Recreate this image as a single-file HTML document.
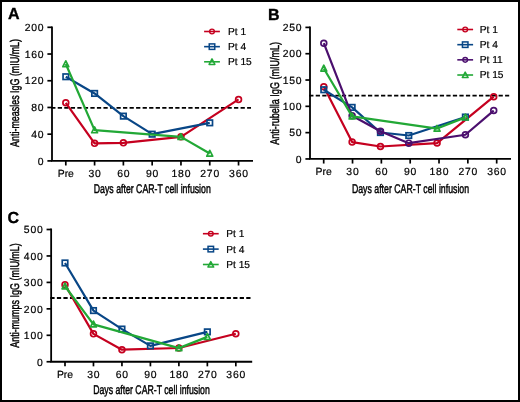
<!DOCTYPE html>
<html><head><meta charset="utf-8"><style>
html,body{margin:0;padding:0;background:#fff;}
svg{display:block;font-family:"Liberation Sans", sans-serif;will-change:transform;}
text{stroke:#000;stroke-width:0.2px;text-rendering:geometricPrecision;}
</style></head><body>
<svg width="520" height="402" viewBox="0 0 520 402" font-family='"Liberation Sans", sans-serif' fill="#000">
<rect x="0" y="0" width="520" height="402" fill="#fff"/>
<text x="7.9" y="19.2" font-size="16" font-weight="bold" fill="#000" style="stroke-width:0.35px">A</text>
<line x1="51.2" y1="107.85" x2="251" y2="107.85" stroke="#000" stroke-width="1.8" stroke-dasharray="4.25 2.28"/>
<path d="M52,26.4 V160.9 H253" fill="none" stroke="#000" stroke-width="1.8" stroke-linejoin="miter"/>
<line x1="47.4" y1="160.9" x2="52" y2="160.9" stroke="#000" stroke-width="1.7"/>
<text x="44.4" y="164.65" font-size="10.4" text-anchor="end" letter-spacing="0.8">0</text>
<line x1="47.4" y1="134.18" x2="52" y2="134.18" stroke="#000" stroke-width="1.7"/>
<text x="44.4" y="137.93" font-size="10.4" text-anchor="end" letter-spacing="0.8">40</text>
<line x1="47.4" y1="107.46" x2="52" y2="107.46" stroke="#000" stroke-width="1.7"/>
<text x="44.4" y="111.21" font-size="10.4" text-anchor="end" letter-spacing="0.8">80</text>
<line x1="47.4" y1="80.74" x2="52" y2="80.74" stroke="#000" stroke-width="1.7"/>
<text x="44.4" y="84.49" font-size="10.4" text-anchor="end" letter-spacing="0.8">120</text>
<line x1="47.4" y1="54.02" x2="52" y2="54.02" stroke="#000" stroke-width="1.7"/>
<text x="44.4" y="57.77" font-size="10.4" text-anchor="end" letter-spacing="0.8">160</text>
<line x1="47.4" y1="27.3" x2="52" y2="27.3" stroke="#000" stroke-width="1.7"/>
<text x="44.4" y="31.05" font-size="10.4" text-anchor="end" letter-spacing="0.8">200</text>
<line x1="65.8" y1="160.9" x2="65.8" y2="165.5" stroke="#000" stroke-width="1.7"/>
<text x="65.8" y="176.9" font-size="10.4" text-anchor="middle">Pre</text>
<line x1="94.59" y1="160.9" x2="94.59" y2="165.5" stroke="#000" stroke-width="1.7"/>
<text x="94.99" y="176.9" font-size="10.4" text-anchor="middle" letter-spacing="0.8">30</text>
<line x1="123.38" y1="160.9" x2="123.38" y2="165.5" stroke="#000" stroke-width="1.7"/>
<text x="123.78" y="176.9" font-size="10.4" text-anchor="middle" letter-spacing="0.8">60</text>
<line x1="152.17" y1="160.9" x2="152.17" y2="165.5" stroke="#000" stroke-width="1.7"/>
<text x="152.57" y="176.9" font-size="10.4" text-anchor="middle" letter-spacing="0.8">90</text>
<line x1="180.96" y1="160.9" x2="180.96" y2="165.5" stroke="#000" stroke-width="1.7"/>
<text x="181.36" y="176.9" font-size="10.4" text-anchor="middle" letter-spacing="0.8">180</text>
<line x1="209.75" y1="160.9" x2="209.75" y2="165.5" stroke="#000" stroke-width="1.7"/>
<text x="210.15" y="176.9" font-size="10.4" text-anchor="middle" letter-spacing="0.8">270</text>
<line x1="238.54" y1="160.9" x2="238.54" y2="165.5" stroke="#000" stroke-width="1.7"/>
<text x="238.94" y="176.9" font-size="10.4" text-anchor="middle" letter-spacing="0.8">360</text>
<text x="93.8" y="192.9" font-size="12.6" textLength="117" lengthAdjust="spacingAndGlyphs" style="stroke-width:0.45px">Days after CAR-T cell infusion</text>
<text transform="translate(19.2,146.9) rotate(-90)" x="0" y="0" font-size="12.6" textLength="107.9" lengthAdjust="spacingAndGlyphs" style="stroke-width:0.45px">Anti-measles IgG (mIU/mL)</text>
<path d="M65.8,102.78 L94.59,143.33 L123.38,142.86 L180.96,136.85 L238.54,99.44" fill="none" stroke="#C5001F" stroke-width="2.2" stroke-linejoin="round"/>
<circle cx="65.8" cy="102.78" r="2.9" fill="none" stroke="#C5001F" stroke-width="1.7"/>
<circle cx="94.59" cy="143.33" r="2.9" fill="none" stroke="#C5001F" stroke-width="1.7"/>
<circle cx="123.38" cy="142.86" r="2.9" fill="none" stroke="#C5001F" stroke-width="1.7"/>
<circle cx="180.96" cy="136.85" r="2.9" fill="none" stroke="#C5001F" stroke-width="1.7"/>
<circle cx="238.54" cy="99.44" r="2.9" fill="none" stroke="#C5001F" stroke-width="1.7"/>
<path d="M65.8,76.73 L94.59,93.43 L123.38,116.14 L152.17,134.18 L209.75,122.82" fill="none" stroke="#084686" stroke-width="2.2" stroke-linejoin="round"/>
<rect x="63.05" y="73.98" width="5.5" height="5.5" fill="none" stroke="#084686" stroke-width="1.7"/>
<rect x="91.84" y="90.68" width="5.5" height="5.5" fill="none" stroke="#084686" stroke-width="1.7"/>
<rect x="120.63" y="113.39" width="5.5" height="5.5" fill="none" stroke="#084686" stroke-width="1.7"/>
<rect x="149.42" y="131.43" width="5.5" height="5.5" fill="none" stroke="#084686" stroke-width="1.7"/>
<rect x="207" y="120.07" width="5.5" height="5.5" fill="none" stroke="#084686" stroke-width="1.7"/>
<path d="M65.8,64.04 L94.59,130.17 L180.96,136.85 L209.75,153.55" fill="none" stroke="#22A836" stroke-width="2.2" stroke-linejoin="round"/>
<polygon points="65.8,60.84 68.75,66.64 62.85,66.64" fill="none" stroke="#22A836" stroke-width="1.7" stroke-linejoin="round"/>
<polygon points="94.59,126.97 97.54,132.77 91.64,132.77" fill="none" stroke="#22A836" stroke-width="1.7" stroke-linejoin="round"/>
<polygon points="180.96,133.65 183.91,139.45 178.01,139.45" fill="none" stroke="#22A836" stroke-width="1.7" stroke-linejoin="round"/>
<polygon points="209.75,150.35 212.7,156.15 206.8,156.15" fill="none" stroke="#22A836" stroke-width="1.7" stroke-linejoin="round"/>
<line x1="204.1" y1="31.5" x2="219.9" y2="31.5" stroke="#C5001F" stroke-width="1.6"/>
<circle cx="212" cy="31.5" r="2.35" fill="none" stroke="#C5001F" stroke-width="1.4"/>
<text x="228" y="34.9" font-size="10.2">Pt 1</text>
<line x1="204.1" y1="46.65" x2="219.9" y2="46.65" stroke="#084686" stroke-width="1.6"/>
<rect x="209.25" y="43.9" width="5.5" height="5.5" fill="none" stroke="#084686" stroke-width="1.5"/>
<text x="228" y="50.05" font-size="10.2">Pt 4</text>
<line x1="204.1" y1="61.8" x2="219.9" y2="61.8" stroke="#22A836" stroke-width="1.6"/>
<polygon points="212,58.9 214.9,64.4 209.1,64.4" fill="none" stroke="#22A836" stroke-width="1.5" stroke-linejoin="round"/>
<text x="228" y="65.2" font-size="10.2">Pt 15</text>
<text x="268.1" y="19.5" font-size="16" font-weight="bold" fill="#000" style="stroke-width:0.35px">B</text>
<line x1="309.2" y1="95.6" x2="509.2" y2="95.6" stroke="#000" stroke-width="1.8" stroke-dasharray="4.25 2.28"/>
<path d="M310,26.5 V158.95 H511" fill="none" stroke="#000" stroke-width="1.8" stroke-linejoin="miter"/>
<line x1="305.4" y1="158.95" x2="310" y2="158.95" stroke="#000" stroke-width="1.7"/>
<text x="302.4" y="162.7" font-size="10.4" text-anchor="end" letter-spacing="0.8">0</text>
<line x1="305.4" y1="132.64" x2="310" y2="132.64" stroke="#000" stroke-width="1.7"/>
<text x="302.4" y="136.39" font-size="10.4" text-anchor="end" letter-spacing="0.8">50</text>
<line x1="305.4" y1="106.33" x2="310" y2="106.33" stroke="#000" stroke-width="1.7"/>
<text x="302.4" y="110.08" font-size="10.4" text-anchor="end" letter-spacing="0.8">100</text>
<line x1="305.4" y1="80.02" x2="310" y2="80.02" stroke="#000" stroke-width="1.7"/>
<text x="302.4" y="83.77" font-size="10.4" text-anchor="end" letter-spacing="0.8">150</text>
<line x1="305.4" y1="53.71" x2="310" y2="53.71" stroke="#000" stroke-width="1.7"/>
<text x="302.4" y="57.46" font-size="10.4" text-anchor="end" letter-spacing="0.8">200</text>
<line x1="305.4" y1="27.4" x2="310" y2="27.4" stroke="#000" stroke-width="1.7"/>
<text x="302.4" y="31.15" font-size="10.4" text-anchor="end" letter-spacing="0.8">250</text>
<line x1="323.7" y1="158.95" x2="323.7" y2="163.55" stroke="#000" stroke-width="1.7"/>
<text x="323.7" y="174.95" font-size="10.4" text-anchor="middle">Pre</text>
<line x1="352.53" y1="158.95" x2="352.53" y2="163.55" stroke="#000" stroke-width="1.7"/>
<text x="352.93" y="174.95" font-size="10.4" text-anchor="middle" letter-spacing="0.8">30</text>
<line x1="381.36" y1="158.95" x2="381.36" y2="163.55" stroke="#000" stroke-width="1.7"/>
<text x="381.76" y="174.95" font-size="10.4" text-anchor="middle" letter-spacing="0.8">60</text>
<line x1="410.19" y1="158.95" x2="410.19" y2="163.55" stroke="#000" stroke-width="1.7"/>
<text x="410.59" y="174.95" font-size="10.4" text-anchor="middle" letter-spacing="0.8">90</text>
<line x1="439.02" y1="158.95" x2="439.02" y2="163.55" stroke="#000" stroke-width="1.7"/>
<text x="439.42" y="174.95" font-size="10.4" text-anchor="middle" letter-spacing="0.8">180</text>
<line x1="467.85" y1="158.95" x2="467.85" y2="163.55" stroke="#000" stroke-width="1.7"/>
<text x="468.25" y="174.95" font-size="10.4" text-anchor="middle" letter-spacing="0.8">270</text>
<line x1="496.68" y1="158.95" x2="496.68" y2="163.55" stroke="#000" stroke-width="1.7"/>
<text x="497.08" y="174.95" font-size="10.4" text-anchor="middle" letter-spacing="0.8">360</text>
<text x="351.9" y="192.5" font-size="12.6" textLength="117.2" lengthAdjust="spacingAndGlyphs" style="stroke-width:0.45px">Days after CAR-T cell infusion</text>
<text transform="translate(279.3,144.8) rotate(-90)" x="0" y="0" font-size="12.6" textLength="102.8" lengthAdjust="spacingAndGlyphs" style="stroke-width:0.45px">Anti-rubella IgG (mIU/mL)</text>
<path d="M323.8,86.86 L352.12,142.11 L380.44,146.48 L437.08,143.06 L493.72,96.7" fill="none" stroke="#C5001F" stroke-width="2.2" stroke-linejoin="round"/>
<circle cx="323.8" cy="86.86" r="2.9" fill="none" stroke="#C5001F" stroke-width="1.7"/>
<circle cx="352.12" cy="142.11" r="2.9" fill="none" stroke="#C5001F" stroke-width="1.7"/>
<circle cx="380.44" cy="146.48" r="2.9" fill="none" stroke="#C5001F" stroke-width="1.7"/>
<circle cx="437.08" cy="143.06" r="2.9" fill="none" stroke="#C5001F" stroke-width="1.7"/>
<circle cx="493.72" cy="96.7" r="2.9" fill="none" stroke="#C5001F" stroke-width="1.7"/>
<path d="M323.8,89.75 L352.12,107.38 L380.44,132.53 L408.76,135.53 L465.4,117.06" fill="none" stroke="#084686" stroke-width="2.2" stroke-linejoin="round"/>
<rect x="321.05" y="87" width="5.5" height="5.5" fill="none" stroke="#084686" stroke-width="1.7"/>
<rect x="349.37" y="104.63" width="5.5" height="5.5" fill="none" stroke="#084686" stroke-width="1.7"/>
<rect x="377.69" y="129.78" width="5.5" height="5.5" fill="none" stroke="#084686" stroke-width="1.7"/>
<rect x="406.01" y="132.78" width="5.5" height="5.5" fill="none" stroke="#084686" stroke-width="1.7"/>
<rect x="462.65" y="114.31" width="5.5" height="5.5" fill="none" stroke="#084686" stroke-width="1.7"/>
<path d="M323.8,43.19 L352.12,115.8 L380.44,131.32 L408.76,143.16 L465.4,134.74 L493.72,110.54" fill="none" stroke="#4B0F6E" stroke-width="2.2" stroke-linejoin="round"/>
<circle cx="323.8" cy="43.19" r="2.9" fill="none" stroke="#4B0F6E" stroke-width="1.7"/>
<circle cx="352.12" cy="115.8" r="2.9" fill="none" stroke="#4B0F6E" stroke-width="1.7"/>
<circle cx="380.44" cy="131.32" r="2.9" fill="none" stroke="#4B0F6E" stroke-width="1.7"/>
<circle cx="408.76" cy="143.16" r="2.9" fill="none" stroke="#4B0F6E" stroke-width="1.7"/>
<circle cx="465.4" cy="134.74" r="2.9" fill="none" stroke="#4B0F6E" stroke-width="1.7"/>
<circle cx="493.72" cy="110.54" r="2.9" fill="none" stroke="#4B0F6E" stroke-width="1.7"/>
<path d="M323.8,68.44 L352.12,116.33 L437.08,128.59 L465.4,117.38" fill="none" stroke="#22A836" stroke-width="2.2" stroke-linejoin="round"/>
<polygon points="323.8,65.24 326.75,71.04 320.85,71.04" fill="none" stroke="#22A836" stroke-width="1.7" stroke-linejoin="round"/>
<polygon points="352.12,113.13 355.07,118.93 349.17,118.93" fill="none" stroke="#22A836" stroke-width="1.7" stroke-linejoin="round"/>
<polygon points="437.08,125.39 440.03,131.19 434.13,131.19" fill="none" stroke="#22A836" stroke-width="1.7" stroke-linejoin="round"/>
<polygon points="465.4,114.18 468.35,119.98 462.45,119.98" fill="none" stroke="#22A836" stroke-width="1.7" stroke-linejoin="round"/>
<line x1="457.3" y1="29.5" x2="473.1" y2="29.5" stroke="#C5001F" stroke-width="1.6"/>
<circle cx="465.2" cy="29.5" r="2.35" fill="none" stroke="#C5001F" stroke-width="1.4"/>
<text x="479.7" y="32.9" font-size="10.2">Pt 1</text>
<line x1="457.3" y1="44.67" x2="473.1" y2="44.67" stroke="#084686" stroke-width="1.6"/>
<rect x="462.45" y="41.92" width="5.5" height="5.5" fill="none" stroke="#084686" stroke-width="1.5"/>
<text x="479.7" y="48.07" font-size="10.2">Pt 4</text>
<line x1="457.3" y1="59.84" x2="473.1" y2="59.84" stroke="#4B0F6E" stroke-width="1.6"/>
<circle cx="465.2" cy="59.84" r="2.35" fill="none" stroke="#4B0F6E" stroke-width="1.4"/>
<text x="479.7" y="63.24" font-size="10.2">Pt 11</text>
<line x1="457.3" y1="75.01" x2="473.1" y2="75.01" stroke="#22A836" stroke-width="1.6"/>
<polygon points="465.2,72.11 468.1,77.61 462.3,77.61" fill="none" stroke="#22A836" stroke-width="1.5" stroke-linejoin="round"/>
<text x="479.7" y="78.41" font-size="10.2">Pt 15</text>
<text x="7.6" y="222.5" font-size="16" font-weight="bold" fill="#000" style="stroke-width:0.35px">C</text>
<line x1="50.35" y1="298" x2="251.3" y2="298" stroke="#000" stroke-width="1.8" stroke-dasharray="4.25 2.28"/>
<path d="M51.15,228.6 V361.75 H252.2" fill="none" stroke="#000" stroke-width="1.8" stroke-linejoin="miter"/>
<line x1="46.55" y1="361.75" x2="51.15" y2="361.75" stroke="#000" stroke-width="1.7"/>
<text x="43.6" y="365.5" font-size="10.4" text-anchor="end" letter-spacing="0.8">0</text>
<line x1="46.55" y1="335.3" x2="51.15" y2="335.3" stroke="#000" stroke-width="1.7"/>
<text x="43.6" y="339.05" font-size="10.4" text-anchor="end" letter-spacing="0.8">100</text>
<line x1="46.55" y1="308.85" x2="51.15" y2="308.85" stroke="#000" stroke-width="1.7"/>
<text x="43.6" y="312.6" font-size="10.4" text-anchor="end" letter-spacing="0.8">200</text>
<line x1="46.55" y1="282.4" x2="51.15" y2="282.4" stroke="#000" stroke-width="1.7"/>
<text x="43.6" y="286.15" font-size="10.4" text-anchor="end" letter-spacing="0.8">300</text>
<line x1="46.55" y1="255.95" x2="51.15" y2="255.95" stroke="#000" stroke-width="1.7"/>
<text x="43.6" y="259.7" font-size="10.4" text-anchor="end" letter-spacing="0.8">400</text>
<line x1="46.55" y1="229.5" x2="51.15" y2="229.5" stroke="#000" stroke-width="1.7"/>
<text x="43.6" y="233.25" font-size="10.4" text-anchor="end" letter-spacing="0.8">500</text>
<line x1="65" y1="361.75" x2="65" y2="366.35" stroke="#000" stroke-width="1.7"/>
<text x="65" y="377.75" font-size="10.4" text-anchor="middle">Pre</text>
<line x1="93.47" y1="361.75" x2="93.47" y2="366.35" stroke="#000" stroke-width="1.7"/>
<text x="93.87" y="377.75" font-size="10.4" text-anchor="middle" letter-spacing="0.8">30</text>
<line x1="121.94" y1="361.75" x2="121.94" y2="366.35" stroke="#000" stroke-width="1.7"/>
<text x="122.34" y="377.75" font-size="10.4" text-anchor="middle" letter-spacing="0.8">60</text>
<line x1="150.41" y1="361.75" x2="150.41" y2="366.35" stroke="#000" stroke-width="1.7"/>
<text x="150.81" y="377.75" font-size="10.4" text-anchor="middle" letter-spacing="0.8">90</text>
<line x1="178.88" y1="361.75" x2="178.88" y2="366.35" stroke="#000" stroke-width="1.7"/>
<text x="179.28" y="377.75" font-size="10.4" text-anchor="middle" letter-spacing="0.8">180</text>
<line x1="207.35" y1="361.75" x2="207.35" y2="366.35" stroke="#000" stroke-width="1.7"/>
<text x="207.75" y="377.75" font-size="10.4" text-anchor="middle" letter-spacing="0.8">270</text>
<line x1="235.82" y1="361.75" x2="235.82" y2="366.35" stroke="#000" stroke-width="1.7"/>
<text x="236.22" y="377.75" font-size="10.4" text-anchor="middle" letter-spacing="0.8">360</text>
<text x="93.2" y="393.9" font-size="12.6" textLength="116.6" lengthAdjust="spacingAndGlyphs" style="stroke-width:0.45px">Days after CAR-T cell infusion</text>
<text transform="translate(19.1,347.8) rotate(-90)" x="0" y="0" font-size="12.6" textLength="104.6" lengthAdjust="spacingAndGlyphs" style="stroke-width:0.45px">Anti-mumps IgG (mIU/mL)</text>
<path d="M65,284.78 L93.47,333.85 L121.94,349.72 L178.88,348 L235.82,333.71" fill="none" stroke="#C5001F" stroke-width="2.2" stroke-linejoin="round"/>
<circle cx="65" cy="284.78" r="2.9" fill="none" stroke="#C5001F" stroke-width="1.7"/>
<circle cx="93.47" cy="333.85" r="2.9" fill="none" stroke="#C5001F" stroke-width="1.7"/>
<circle cx="121.94" cy="349.72" r="2.9" fill="none" stroke="#C5001F" stroke-width="1.7"/>
<circle cx="178.88" cy="348" r="2.9" fill="none" stroke="#C5001F" stroke-width="1.7"/>
<circle cx="235.82" cy="333.71" r="2.9" fill="none" stroke="#C5001F" stroke-width="1.7"/>
<path d="M65,262.96 L93.47,310.57 L121.94,329.08 L150.41,345.88 L207.35,331.86" fill="none" stroke="#084686" stroke-width="2.2" stroke-linejoin="round"/>
<rect x="62.25" y="260.21" width="5.5" height="5.5" fill="none" stroke="#084686" stroke-width="1.7"/>
<rect x="90.72" y="307.82" width="5.5" height="5.5" fill="none" stroke="#084686" stroke-width="1.7"/>
<rect x="119.19" y="326.33" width="5.5" height="5.5" fill="none" stroke="#084686" stroke-width="1.7"/>
<rect x="147.66" y="343.13" width="5.5" height="5.5" fill="none" stroke="#084686" stroke-width="1.7"/>
<rect x="204.6" y="329.11" width="5.5" height="5.5" fill="none" stroke="#084686" stroke-width="1.7"/>
<path d="M65,286.24 L93.47,324.32 L178.88,348.13 L207.35,336.89" fill="none" stroke="#22A836" stroke-width="2.2" stroke-linejoin="round"/>
<polygon points="65,283.04 67.95,288.84 62.05,288.84" fill="none" stroke="#22A836" stroke-width="1.7" stroke-linejoin="round"/>
<polygon points="93.47,321.12 96.42,326.92 90.52,326.92" fill="none" stroke="#22A836" stroke-width="1.7" stroke-linejoin="round"/>
<polygon points="178.88,344.93 181.83,350.73 175.93,350.73" fill="none" stroke="#22A836" stroke-width="1.7" stroke-linejoin="round"/>
<polygon points="207.35,333.69 210.3,339.49 204.4,339.49" fill="none" stroke="#22A836" stroke-width="1.7" stroke-linejoin="round"/>
<line x1="202.9" y1="233.7" x2="218.7" y2="233.7" stroke="#C5001F" stroke-width="1.6"/>
<circle cx="210.8" cy="233.7" r="2.35" fill="none" stroke="#C5001F" stroke-width="1.4"/>
<text x="226.2" y="237.1" font-size="10.2">Pt 1</text>
<line x1="202.9" y1="249.1" x2="218.7" y2="249.1" stroke="#084686" stroke-width="1.6"/>
<rect x="208.05" y="246.35" width="5.5" height="5.5" fill="none" stroke="#084686" stroke-width="1.5"/>
<text x="226.2" y="252.5" font-size="10.2">Pt 4</text>
<line x1="202.9" y1="264.5" x2="218.7" y2="264.5" stroke="#22A836" stroke-width="1.6"/>
<polygon points="210.8,261.6 213.7,267.1 207.9,267.1" fill="none" stroke="#22A836" stroke-width="1.5" stroke-linejoin="round"/>
<text x="226.2" y="267.9" font-size="10.2">Pt 15</text>
<rect x="1" y="1" width="518" height="400" fill="none" stroke="#000" stroke-width="2"/>
</svg>
</body></html>
